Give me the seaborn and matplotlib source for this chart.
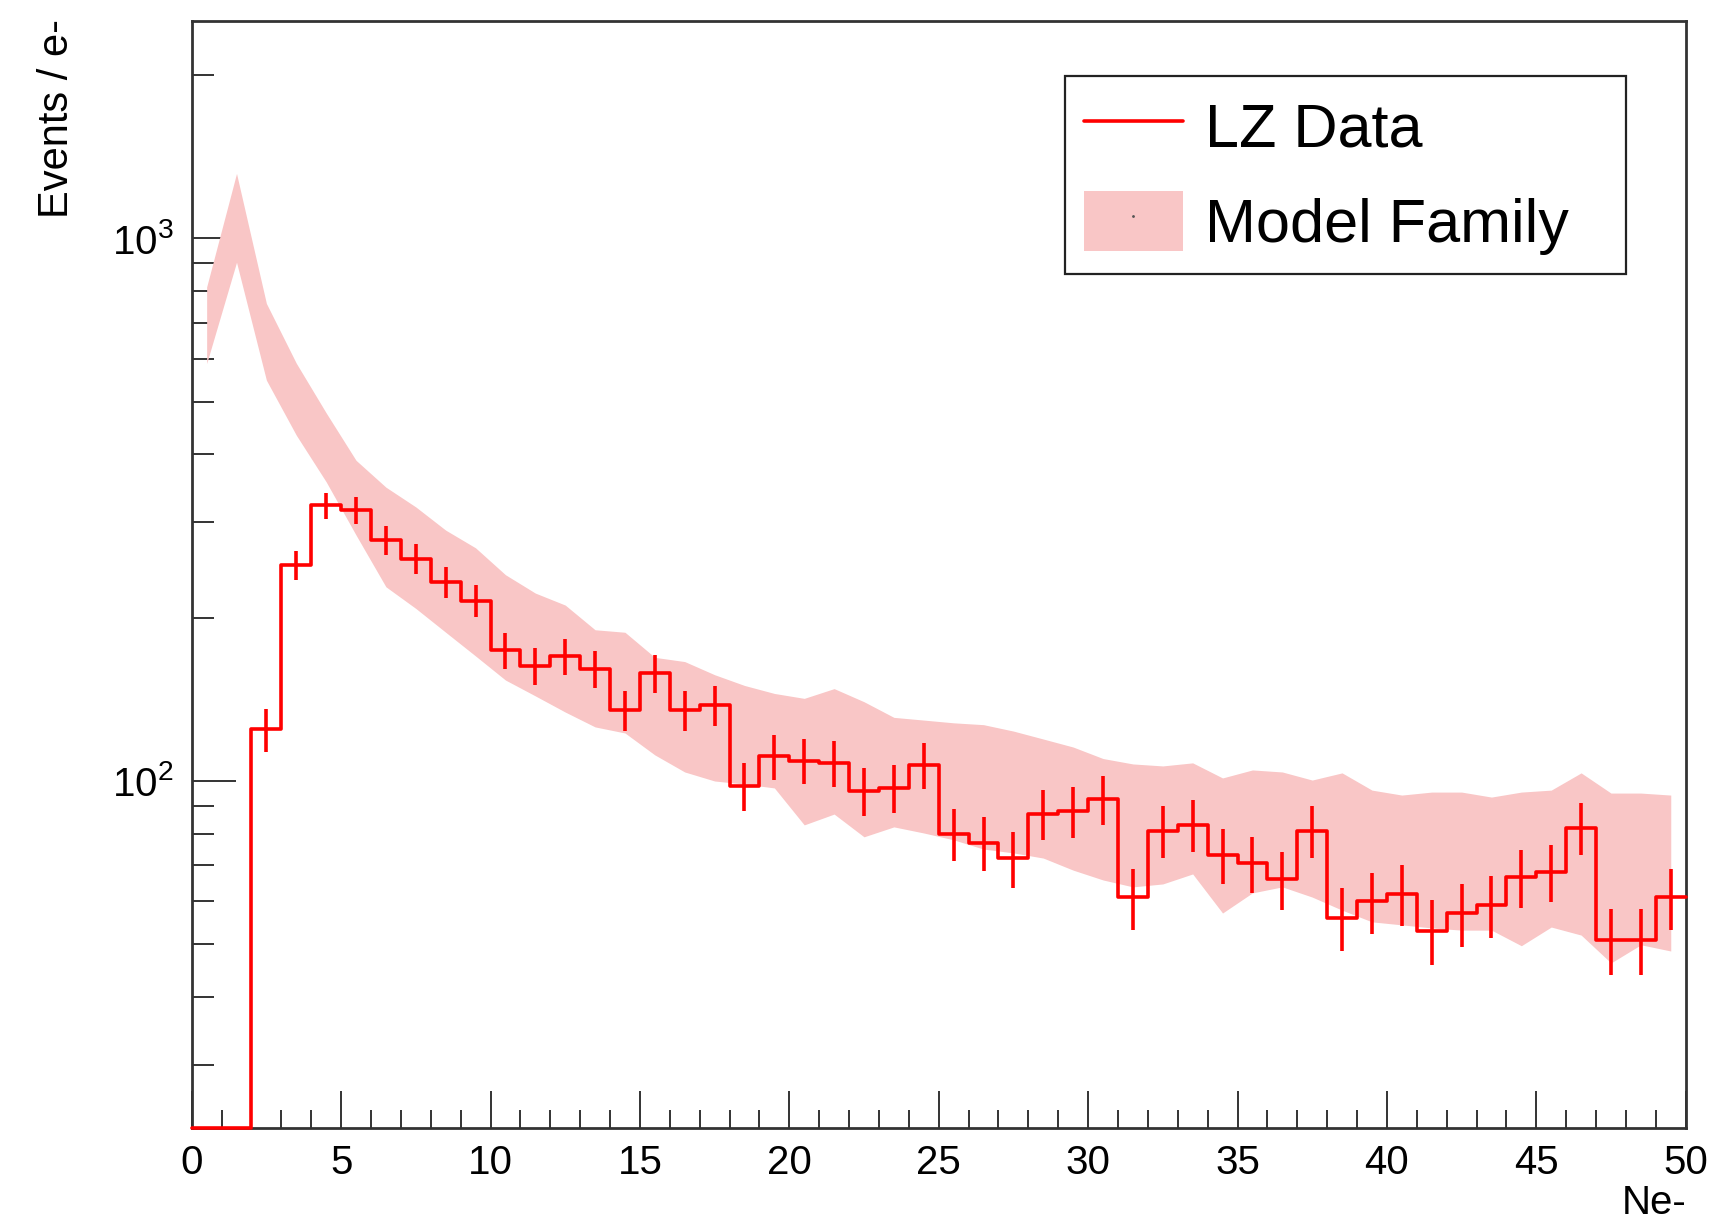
import numpy as np
import matplotlib
matplotlib.use("Agg")
import matplotlib.pyplot as plt
import seaborn as sns
import pandas as pd
from matplotlib.ticker import LogLocator, NullFormatter, MultipleLocator, LogFormatterSciNotation
from matplotlib.patches import Patch
from matplotlib.lines import Line2D

# ---------------- data ----------------
bin_edges = list(range(0, 51))            # Ne- bins of width 1
bin_centers = [e + 0.5 for e in range(0, 50)]

lz_counts = [0, 0, 124.5, 250, 322, 316, 278, 257, 233, 215,
             174, 163, 170, 161, 135, 158, 135, 138, 98, 111,
             109, 108, 96, 97, 107, 80, 77, 72, 87, 88,
             92.5, 61, 81, 83, 73, 70.5, 66, 81, 56, 60,
             62, 53, 57, 59, 66.5, 68, 82, 51, 51, 61]

lz_errors = [0, 0, 11.2, 15.8, 17.9, 17.8, 16.7, 16.0, 15.3, 14.7,
             13.2, 12.8, 13.0, 12.7, 11.6, 12.6, 11.6, 11.7, 9.9, 10.5,
             10.4, 10.4, 9.8, 9.8, 10.3, 8.9, 8.8, 8.5, 9.3, 9.4,
             9.6, 7.8, 9.0, 9.1, 8.5, 8.4, 8.1, 9.0, 7.5, 7.7,
             7.9, 7.3, 7.5, 7.7, 8.2, 8.2, 9.1, 7.1, 7.1, 7.8]

model_upper = [814, 1318, 759, 589, 477, 390, 348, 320, 290, 269,
               240, 222, 211, 190, 188, 169, 166, 157, 150, 145,
               142, 148, 140, 131, 129.5, 128, 127, 123.6, 119.5, 115.5,
               110, 107.5, 106.6, 108, 101.3, 104.8, 103.9, 100.4, 103.5, 96.2,
               94.2, 95.4, 95.4, 93.4, 95.4, 96.2, 103.5, 95, 95, 94.2]

model_lower = [588, 904, 548, 434, 356, 284, 228, 208, 188, 170,
               153.5, 143.5, 134, 125.8, 122.6, 111.7, 103.9, 100, 98.7, 97.1,
               83, 86.9, 78.9, 82.3, 80.2, 77.9, 74.9, 73.7, 72.1, 68.5,
               65.7, 63.8, 64.6, 67.4, 57.1, 62.2, 63.8, 61.1, 57.8, 55,
               54.3, 53.6, 53.1, 53.1, 49.7, 53.8, 52, 46.2, 49.9, 48.6]

x_min, x_max = 0, 50
y_min, y_max = 22.9, 2520

# ---------------- style ----------------
sns.set_theme(style="white")
plt.rcParams['font.family'] = ['Liberation Sans', 'DejaVu Sans']
plt.rcParams['mathtext.default'] = 'regular'
plt.rcParams['text.color'] = 'black'
plt.rcParams['xtick.bottom'] = True
plt.rcParams['ytick.left'] = True

red = '#ff0000'
pink = '#f9c6c6'
lw_data = 2.6

fig = plt.figure(figsize=(17.17, 12.24), dpi=100)
ax = fig.add_axes([0.11165, 0.07819, 0.87012, 0.90490])
ax.set_yscale('log')

# model band
ax.fill_between(bin_centers, model_lower, model_upper, color=pink, lw=0, zorder=1)

# data histogram (step outline)
counts = np.array(lz_counts, dtype=float)
errs = np.array(lz_errors, dtype=float)
counts_draw = np.where(counts > 0, counts, y_min)
df = pd.DataFrame({'Ne': bin_edges,
                   'Events': np.append(counts_draw, counts_draw[-1])})
sns.lineplot(data=df, x='Ne', y='Events', drawstyle='steps-post', color=red,
             lw=lw_data, ax=ax, zorder=4, clip_on=False, estimator=None, sort=False)

mask = counts > 0
ax.errorbar(np.array(bin_centers)[mask], counts[mask], yerr=errs[mask], fmt='none',
            ecolor=red, elinewidth=lw_data, capsize=0, zorder=4)

ax.set_xlim(x_min, x_max)
ax.set_ylim(y_min, y_max)

# ticks
ax.xaxis.set_major_locator(MultipleLocator(5))
ax.xaxis.set_minor_locator(MultipleLocator(1))
ax.yaxis.set_major_locator(LogLocator(base=10))
ax.yaxis.set_major_formatter(LogFormatterSciNotation())
ax.yaxis.set_minor_locator(LogLocator(base=10, subs=np.arange(2, 10)))
ax.yaxis.set_minor_formatter(NullFormatter())

ax.tick_params(axis='both', which='both', direction='in', top=False, right=False,
               bottom=True, left=True,
               colors='#333333', labelcolor='black', labelsize=29, width=1.4)
ax.tick_params(axis='x', which='major', length=26.5, pad=11)
ax.tick_params(axis='x', which='minor', length=13)
ax.tick_params(axis='y', which='major', length=32, pad=13)
ax.tick_params(axis='y', which='minor', length=16)

for sp in ax.spines.values():
    sp.set_visible(True)
    sp.set_color('#333333')
    sp.set_linewidth(2.0)

ax.set_xlabel('')
ax.set_ylabel('')
fig.text(57 / 1717, 1 - 19 / 1224, 'Events / e-', rotation=90, ha='center', va='top',
         fontsize=30, color='black')
fig.text(1686 / 1717, 1 - 1214 / 1224, 'Ne-', ha='right', va='baseline',
         fontsize=29, color='black')

# legend
h_data = Line2D([], [], color=red, lw=lw_data)
h_model = (Patch(facecolor=pink, edgecolor='none'),
           Line2D([], [], marker='.', ms=2, color='#555555', ls='none'))
leg = ax.legend([h_data, h_model], ['LZ Data', 'Model Family'],
                loc='upper left', bbox_to_anchor=(0.5845, 0.950, 0.3755, 0.0),
                mode='expand', fontsize=44, frameon=True, fancybox=False,
                borderpad=0.31, handlelength=1.62, handleheight=1.15,
                handletextpad=0.36, labelspacing=0.52, borderaxespad=0)
leg.get_frame().set_edgecolor('#222222')
leg.get_frame().set_linewidth(1.6)
leg.get_frame().set_facecolor('white')
leg.get_frame().set_alpha(1)
for t in leg.get_texts():
    t.set_color('black')

fig.savefig('out.png', dpi=100)
